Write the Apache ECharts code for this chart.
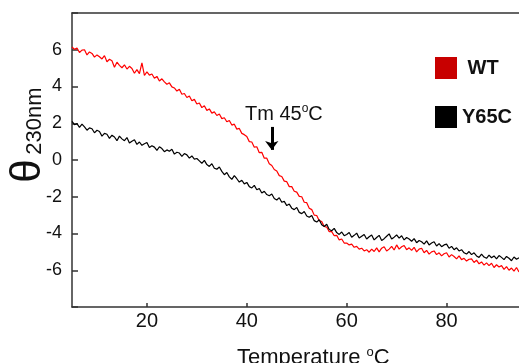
<!DOCTYPE html>
<html>
<head>
<meta charset="utf-8">
<script src="https://cdn.jsdelivr.net/npm/echarts@6/dist/echarts.min.js"></script>
<style>
  html, body { margin: 0; padding: 0; background: #fff; }
  #chart { width: 519px; height: 363px; }
</style>
</head>
<body>
<div id="chart"></div>
<script>
// temperature grid: 5 .. 94.5 °C, one reading every 0.5 °C
const tStart = 5;
const tStep = 0.5;

// theta 230nm, wild type (red)
const wt = [
  6.15, 6.02, 6.10, 5.85, 5.98, 6.00, 5.72, 5.88, 5.80, 5.60,
  5.72, 5.62, 5.50, 5.68, 5.35, 5.48, 5.40, 5.05, 5.32, 5.15,
  5.02, 5.18, 4.95, 5.10, 4.98, 4.72, 4.92, 4.70, 5.28, 4.60,
  4.80, 4.62, 4.68, 4.45, 4.55, 4.30, 4.42, 4.25, 4.12, 4.20,
  3.98, 3.92, 3.75, 3.85, 3.58, 3.62, 3.40, 3.48, 3.22, 3.30,
  3.05, 3.10, 2.85, 2.95, 2.70, 2.78, 2.55, 2.62, 2.42, 2.50,
  2.25, 2.30, 2.08, 2.15, 1.90, 1.95, 1.68, 1.72, 1.45, 1.38,
  1.28, 1.00, 0.98, 0.70, 0.72, 0.40, 0.42, 0.10, 0.10, -0.20,
  -0.30, -0.52, -0.60, -0.85, -0.90, -1.15, -1.18, -1.45, -1.45, -1.70,
  -1.75, -1.98, -2.00, -2.30, -2.32, -2.62, -2.70, -3.00, -3.02, -3.30,
  -3.35, -3.62, -3.65, -3.90, -3.90, -4.12, -4.10, -4.35, -4.30, -4.52,
  -4.52, -4.62, -4.58, -4.75, -4.70, -4.85, -4.80, -4.95, -4.88, -5.02,
  -4.85, -4.98, -4.78, -5.00, -4.80, -4.72, -4.95, -4.85, -4.70, -4.90,
  -4.62, -4.85, -4.72, -4.65, -4.88, -4.78, -4.92, -4.75, -5.00, -4.85,
  -4.80, -5.05, -4.92, -5.12, -5.00, -4.95, -5.15, -5.05, -5.22, -5.10,
  -5.05, -5.28, -5.15, -5.25, -5.38, -5.22, -5.42, -5.35, -5.50, -5.40,
  -5.38, -5.58, -5.45, -5.65, -5.55, -5.72, -5.60, -5.75, -5.62, -5.85,
  -5.70, -5.82, -5.75, -5.95, -5.80, -6.00, -5.88, -6.05, -5.85, -6.10
];

// theta 230nm, Y65C mutant (black)
const y65c = [
  2.10, 1.92, 1.98, 1.78, 1.95, 1.80, 1.62, 1.75, 1.70, 1.48,
  1.62, 1.55, 1.30, 1.45, 1.40, 1.18, 1.35, 1.25, 1.05, 1.30,
  1.15, 1.05, 1.22, 0.92, 1.02, 1.10, 0.85, 0.98, 0.80, 0.88,
  0.95, 0.68, 0.78, 0.70, 0.52, 0.72, 0.62, 0.45, 0.55, 0.48,
  0.58, 0.32, 0.42, 0.38, 0.20, 0.35, 0.28, 0.10, 0.22, 0.05,
  0.08, -0.05, -0.18, -0.02, -0.25, -0.35, -0.20, -0.45, -0.50, -0.38,
  -0.62, -0.80, -0.68, -0.92, -1.05, -0.85, -1.02, -1.20, -1.10, -1.30,
  -1.22, -1.45, -1.52, -1.38, -1.62, -1.55, -1.80, -1.70, -1.88, -1.95,
  -1.85, -2.10, -2.18, -2.05, -2.30, -2.25, -2.48, -2.40, -2.62, -2.70,
  -2.58, -2.85, -2.92, -2.80, -3.05, -3.12, -3.02, -3.30, -3.38, -3.25,
  -3.52, -3.62, -3.50, -3.78, -3.85, -3.72, -3.95, -4.05, -3.92, -4.12,
  -4.05, -3.95, -4.20, -4.10, -3.98, -4.25, -4.15, -4.05, -4.30, -4.18,
  -4.08, -4.35, -4.22, -4.10, -4.38, -4.28, -4.15, -4.02, -4.30, -4.20,
  -4.08, -4.25, -4.12, -4.35, -4.22, -4.30, -4.42, -4.28, -4.50, -4.38,
  -4.45, -4.58, -4.40, -4.62, -4.52, -4.45, -4.68, -4.55, -4.72, -4.62,
  -4.58, -4.80, -4.70, -4.88, -4.78, -4.95, -4.88, -5.05, -5.12, -4.98,
  -5.15, -5.05, -5.22, -5.30, -5.12, -5.28, -5.35, -5.18, -5.32, -5.22,
  -5.38, -5.20, -5.30, -5.42, -5.25, -5.35, -5.48, -5.28, -5.40, -5.32
];

const xTicks = [20, 40, 60, 80];
const yLabels = [-6, -4, -2, 0, 2, 4, 6];
const yTicks = [-8, -6, -4, -2, 0, 2, 4, 6, 8];
const tm = 45;

const FONT = "'Liberation Sans', Arial, Helvetica, sans-serif";

function pairs(values) {
  return values.map((v, i) => [tStart + i * tStep, v]);
}

const chart = echarts.init(document.getElementById("chart"));
chart.setOption({
  animation: false,
  grid: { left: 72, right: 0, top: 13, bottom: 56 },
  legend: {
    data: ["WT", "Y65C"],
    orient: "vertical",
    left: 430,
    top: 52,
    icon: "rect",
    itemWidth: 22,
    itemHeight: 22,
    itemGap: 27,
    formatter: (name) => (name === "WT" ? " " + name : name),
    textStyle: { fontFamily: FONT, fontSize: 20, fontWeight: "bold", color: "#111" },
  },
  xAxis: [
    {
      type: "value",
      min: 5,
      max: 94.5,
      splitLine: { show: false },
      axisLine: { onZero: false, lineStyle: { color: "#333", width: 1.5 } },
      axisTick: { inside: true, length: 4, customValues: xTicks, lineStyle: { color: "#333", width: 1.5 } },
      axisLabel: { customValues: xTicks, margin: 4, fontFamily: FONT, fontSize: 20, color: "#111" },
    },
    {
      type: "value",
      position: "top",
      min: 5,
      max: 94.5,
      splitLine: { show: false },
      axisLine: { show: true, onZero: false, lineStyle: { color: "#333", width: 1.5 } },
      axisTick: { show: false },
      axisLabel: { show: false },
    },
  ],
  yAxis: {
    type: "value",
    min: -8,
    max: 8,
    splitLine: { show: false },
    axisLine: { show: true, onZero: false, lineStyle: { color: "#333", width: 1.5 } },
    axisTick: { show: true, inside: true, length: 6, customValues: yTicks, lineStyle: { color: "#333", width: 1.5 } },
    axisLabel: { customValues: yLabels, margin: 10, fontFamily: FONT, fontSize: 18, color: "#111" },
  },
  series: [
    {
      name: "WT",
      type: "line",
      data: pairs(wt),
      showSymbol: false,
      itemStyle: { color: "#c80000" },
      lineStyle: { color: "#ff0000", width: 1.2 },
      markLine: {
        silent: true,
        symbol: ["none", "arrow"],
        symbolSize: [10, 9],
        label: { show: false },
        lineStyle: { color: "#000", width: 3, type: "solid" },
        data: [[{ coord: [tm, 1.8] }, { coord: [tm, 0.55] }]],
      },
    },
    {
      name: "Y65C",
      type: "line",
      data: pairs(y65c),
      showSymbol: false,
      itemStyle: { color: "#000" },
      lineStyle: { color: "#000", width: 1.2 },
    },
  ],
  graphic: [
    {
      type: "text",
      x: 245,
      y: 103,
      style: {
        text: "{a|Tm 45}{s|o}{a|C}",
        fill: "#111",
        align: "left",
        verticalAlign: "top",
        rich: {
          a: { fontFamily: FONT, fontSize: 20, fill: "#111", lineHeight: 22 },
          s: { fontFamily: FONT, fontSize: 12, fill: "#111", verticalAlign: "top", lineHeight: 22 },
        },
      },
    },
    {
      type: "text",
      x: 237,
      y: 346,
      style: {
        text: "{a|Temperature }{s|o}{a|C}",
        fill: "#111",
        align: "left",
        verticalAlign: "top",
        rich: {
          a: { fontFamily: FONT, fontSize: 22, fill: "#111", lineHeight: 24 },
          s: { fontFamily: FONT, fontSize: 13, fill: "#111", verticalAlign: "top", lineHeight: 24 },
        },
      },
    },
    {
      type: "text",
      x: 28,
      y: 171,
      rotation: Math.PI / 2,
      style: { text: "θ", fontFamily: FONT, fontSize: 42, fill: "#111", align: "center", verticalAlign: "middle" },
    },
    {
      type: "text",
      x: 35,
      y: 121,
      rotation: Math.PI / 2,
      style: { text: "230nm", fontFamily: FONT, fontSize: 22, fill: "#111", align: "center", verticalAlign: "middle" },
    },
  ],
});
</script>
</body>
</html>
